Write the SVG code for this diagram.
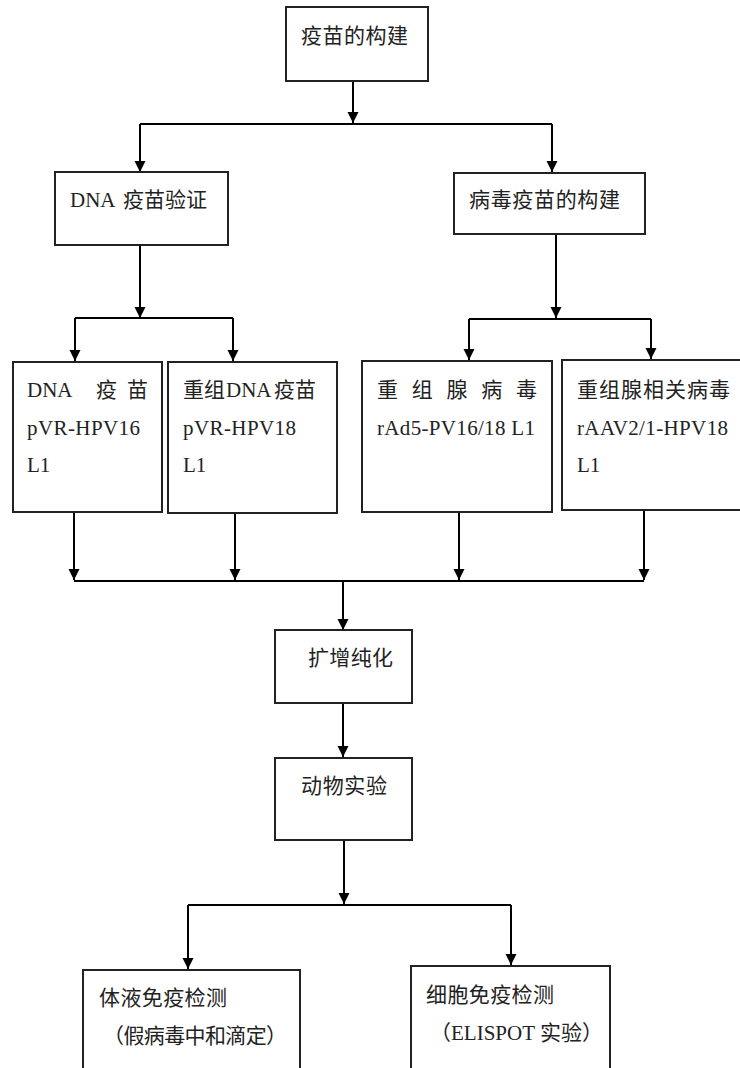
<svg xmlns="http://www.w3.org/2000/svg" width="740" height="1068" viewBox="0 0 740 1068">
<defs>
<marker id="ah" markerUnits="userSpaceOnUse" markerWidth="12" markerHeight="13" refX="11" refY="5.5" orient="auto">
<path d="M0,0 L11,5.5 L0,11 Z" fill="#000"/>
</marker>
<style>
.box{fill:#fff;stroke:#222;stroke-width:2}
.t{font-family:"Liberation Serif","Noto Sans CJK SC",serif;font-size:21px;fill:#222}
.c{fill:none;stroke:#000;stroke-width:2}
.a{fill:none;stroke:#000;stroke-width:2;marker-end:url(#ah)}
</style>
</defs>
<rect width="740" height="1068" fill="#fff"/>
<g id="connectors">
<path class="a" d="M353,81 V123"/>
<path class="c" d="M140,124 H552"/>
<path class="a" d="M140,124 V172"/>
<path class="a" d="M552,124 V172"/>
<path class="a" d="M140,245 V318"/>
<path class="c" d="M75,318 H233"/>
<path class="a" d="M75,318 V361"/>
<path class="a" d="M233,318 V361"/>
<path class="a" d="M556,234 V318"/>
<path class="c" d="M469,319 H651"/>
<path class="a" d="M469,319 V360"/>
<path class="a" d="M651,319 V359"/>
<path class="a" d="M74,512 V580"/>
<path class="a" d="M235,513 V580"/>
<path class="a" d="M459,512 V580"/>
<path class="a" d="M644,510 V580"/>
<path class="c" d="M74,581 H644"/>
<path class="a" d="M343,581 V630"/>
<path class="a" d="M343,703 V757"/>
<path class="a" d="M344,840 V904"/>
<path class="c" d="M188,905 H511"/>
<path class="a" d="M188,905 V969"/>
<path class="a" d="M511,905 V965"/>
</g>
<g id="n1"><rect class="box" x="286" y="7" width="142" height="74"/>
<text class="t" x="301" y="43" textLength="107">疫苗的构建</text></g>
<g id="n2"><rect class="box" x="55" y="172" width="173" height="73"/>
<text class="t" x="70" y="207">DNA<tspan x="123">疫苗验证</tspan></text></g>
<g id="n3"><rect class="box" x="454" y="173" width="191" height="61"/>
<text class="t" x="469" y="207" textLength="151">病毒疫苗的构建</text></g>
<g id="n4"><rect class="box" x="13" y="362" width="149" height="150"/>
<text class="t" x="27" y="397">DNA<tspan x="96">疫</tspan><tspan x="127">苗</tspan></text>
<text class="t" x="27" y="435" textLength="113">pVR-HPV16</text>
<text class="t" x="27" y="472">L1</text></g>
<g id="n5"><rect class="box" x="168" y="362" width="169" height="151"/>
<text class="t" x="183" y="397">重组<tspan x="226">DNA</tspan><tspan x="274">疫苗</tspan></text>
<text class="t" x="183" y="435" textLength="113">pVR-HPV18</text>
<text class="t" x="183" y="472">L1</text></g>
<g id="n6"><rect class="box" x="362" y="361" width="190" height="151"/>
<text class="t" x="377" y="397" textLength="160">重 组 腺 病 毒</text>
<text class="t" x="377" y="435" textLength="158">rAd5-PV16/18 L1</text></g>
<g id="n7"><rect class="box" x="562" y="360" width="190" height="150"/>
<text class="t" x="577" y="397" textLength="153">重组腺相关病毒</text>
<text class="t" x="577" y="435" textLength="151">rAAV2/1-HPV18</text>
<text class="t" x="577" y="472">L1</text></g>
<g id="n8"><rect class="box" x="275" y="630" width="137" height="73"/>
<text class="t" x="308" y="665" textLength="85">扩增纯化</text></g>
<g id="n9"><rect class="box" x="275" y="758" width="137" height="82"/>
<text class="t" x="301" y="793" textLength="86">动物实验</text></g>
<g id="n10"><rect class="box" x="83" y="970" width="217" height="110"/>
<text class="t" x="99" y="1005" textLength="128">体液免疫检测</text>
<text class="t" x="103" y="1043" textLength="184">（假病毒中和滴定）</text></g>
<g id="n11"><rect class="box" x="411" y="966" width="199" height="110"/>
<text class="t" x="426" y="1002" textLength="128">细胞免疫检测</text>
<text class="t" x="430" y="1040">（ELISPOT<tspan x="540">实验）</tspan></text></g>
</svg>
